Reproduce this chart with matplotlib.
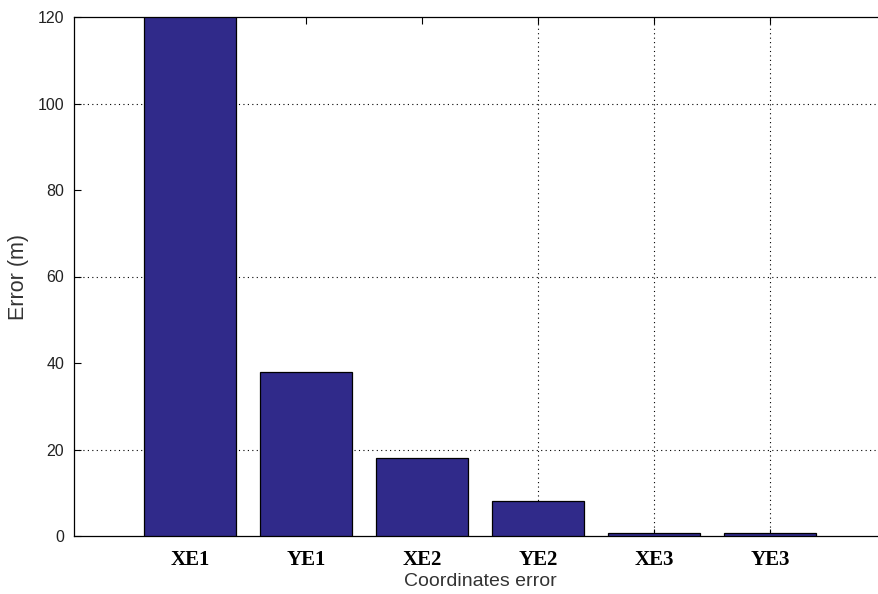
import matplotlib
matplotlib.use("Agg")
import matplotlib.pyplot as plt

categories = ["XE1", "YE1", "XE2", "YE2", "XE3", "YE3"]
errors = [120, 38, 18, 8, 0.6, 0.6]
y_ticks = [0, 20, 40, 60, 80, 100, 120]
h_grid = [20, 60, 100]
v_grid_idx = [3, 4, 5]

fig = plt.figure(figsize=(8.79, 5.94), dpi=100)
W, H = 879, 594
left, right, top, bottom = 74, 886, 17, 536
ax = fig.add_axes([left / W, 1 - bottom / H, (right - left) / W, (bottom - top) / H])

x = list(range(1, len(categories) + 1))
ax.bar(x, errors, width=0.8, color="#302a8a", edgecolor="black", linewidth=0.9, zorder=3)

for yv in h_grid:
    ax.axhline(yv, color="black", linestyle=(0, (1, 3)), linewidth=0.8, zorder=1)
for i in v_grid_idx:
    ax.axvline(x[i], color="black", linestyle=(0, (1, 3)), linewidth=0.8, zorder=1)

ax.set_xlim(0, 7)
ax.set_ylim(0, 120)
ax.set_yticks(y_ticks)
ax.set_yticklabels([str(v) for v in y_ticks], fontsize=11.5, family="Liberation Sans", color="#222222")
ax.set_xticks(x)
ax.set_xticklabels(categories, fontsize=15, family="Liberation Serif", fontweight="bold")
ax.tick_params(axis="both", direction="in", length=5, width=0.8, top=True, right=False)
ax.tick_params(axis="x", pad=10)
ax.tick_params(axis="y", pad=7)
ax.spines["right"].set_visible(False)
for s in ["left", "top", "bottom"]:
    ax.spines[s].set_linewidth(0.9)

ax.set_xlabel("Coordinates error", fontsize=14, family="Liberation Sans", color="#333333", labelpad=2)
ax.set_ylabel("Error (m)", fontsize=15.5, family="Liberation Sans", color="#333333", labelpad=6)

fig.savefig("out.png", dpi=100)
